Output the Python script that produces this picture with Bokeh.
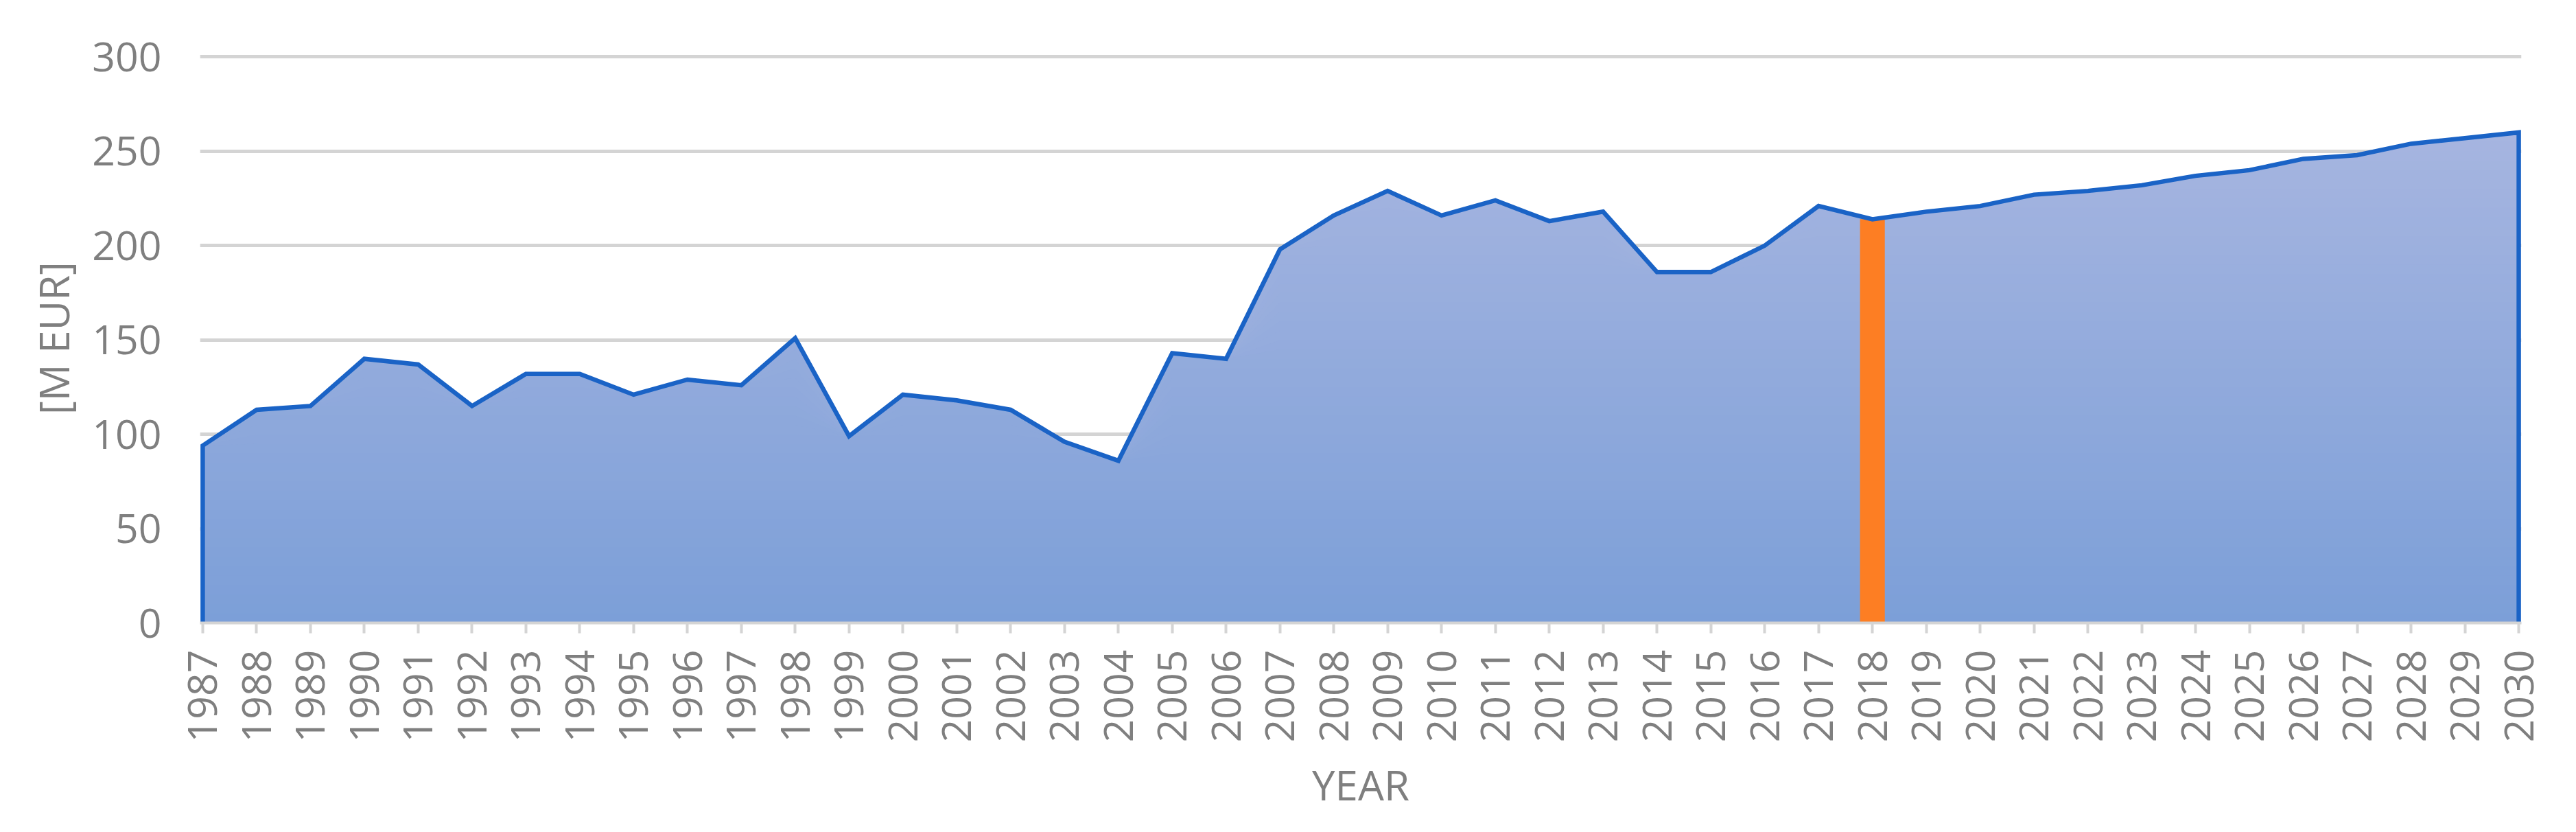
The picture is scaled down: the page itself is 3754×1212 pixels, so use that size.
import math
import numpy as np
from bokeh.plotting import figure
from bokeh.models import Range1d, FixedTicker
from bokeh.embed import file_html
from bokeh.resources import INLINE

# ---- data ----
years = list(range(1987, 2031))
values = [94, 113, 115, 140, 137, 115, 132, 132, 121, 129, 126, 151, 99,
          121, 118, 113, 96, 86, 143, 140, 198, 216, 229, 216, 224, 213,
          218, 186, 186, 200, 221, 214, 218, 221, 227, 229, 232, 237, 240,
          246, 248, 254, 257, 260]
y_ticks = [0, 50, 100, 150, 200, 250, 300]
highlight_year = 2018
x_title = "YEAR"
y_title = "[M EUR]"

# ---- styling ----
FONT = "Open Sans"
TEXT = "#7F7F7F"
GRID = "#D4D4D4"
LINE = "#1A63C6"
ORANGE = "#FD7E23"
TOP_RGB = np.array([166, 181, 224])
BOT_RGB = np.array([124, 159, 216])

p = figure(width=3738, height=1196, output_backend="svg", toolbar_location=None,
           x_range=Range1d(years[0] - 0.05, years[-1] + 0.05),
           y_range=Range1d(0, 302),
           min_border_left=291, min_border_right=64,
           min_border_top=77, min_border_bottom=289)
p.outline_line_color = None
p.background_fill_color = "white"

# gradient-like area fill: layered areas, top colour first
vals = np.array(values, dtype=float)
vmax = vals.max()
step = 5
levels = np.arange(step * math.ceil(vmax / step), 0, -step)
for L in levels:
    t = min(1.0, max(0.0, (L - step / 2) / vmax))
    rgb = BOT_RGB + (TOP_RGB - BOT_RGB) * t
    col = "#%02x%02x%02x" % tuple(int(round(c)) for c in rgb)
    p.varea(x=years, y1=np.zeros(len(years)), y2=np.minimum(vals, L), fill_color=col)

# highlighted year bar
hi = years.index(highlight_year)
p.vbar(x=[highlight_year], top=[values[hi]], bottom=0, width=0.46,
       fill_color=ORANGE, line_color=None)

# outline of the area (including vertical sides)
xs = [years[0]] + years + [years[-1]]
ys = [0] + values + [0]
p.line(xs, ys, line_color=LINE, line_width=6.5, line_join="miter")

# axes
p.xaxis.ticker = FixedTicker(ticks=years)
p.xaxis.major_label_orientation = math.pi / 2
p.xaxis.axis_line_color = GRID
p.xaxis.axis_line_width = 4
p.xaxis.major_tick_line_color = GRID
p.xaxis.major_tick_line_width = 4
p.xaxis.major_tick_out = 15
p.xaxis.major_tick_in = 0
p.xaxis.minor_tick_line_color = None
p.xaxis.major_label_standoff = 24
p.xaxis.axis_label = x_title
p.xaxis.axis_label_standoff = 18

p.yaxis.ticker = FixedTicker(ticks=y_ticks)
p.yaxis.axis_line_color = None
p.yaxis.major_tick_line_color = None
p.yaxis.minor_tick_line_color = None
p.yaxis.major_tick_out = 0
p.yaxis.major_tick_in = 0
p.yaxis.major_label_standoff = 56
p.yaxis.axis_label = y_title
p.yaxis.axis_label_standoff = 12

for ax in (p.xaxis, p.yaxis):
    ax.major_label_text_font = FONT
    ax.major_label_text_font_size = "59px"
    ax.major_label_text_color = TEXT
    ax.axis_label_text_font = FONT
    ax.axis_label_text_font_size = "60px"
    ax.axis_label_text_font_style = "normal"
    ax.axis_label_text_color = TEXT

p.xgrid.grid_line_color = None
p.ygrid.ticker = FixedTicker(ticks=y_ticks)
p.ygrid.grid_line_color = GRID
p.ygrid.grid_line_width = 5

open("out.html", "w").write(file_html(p, INLINE))
